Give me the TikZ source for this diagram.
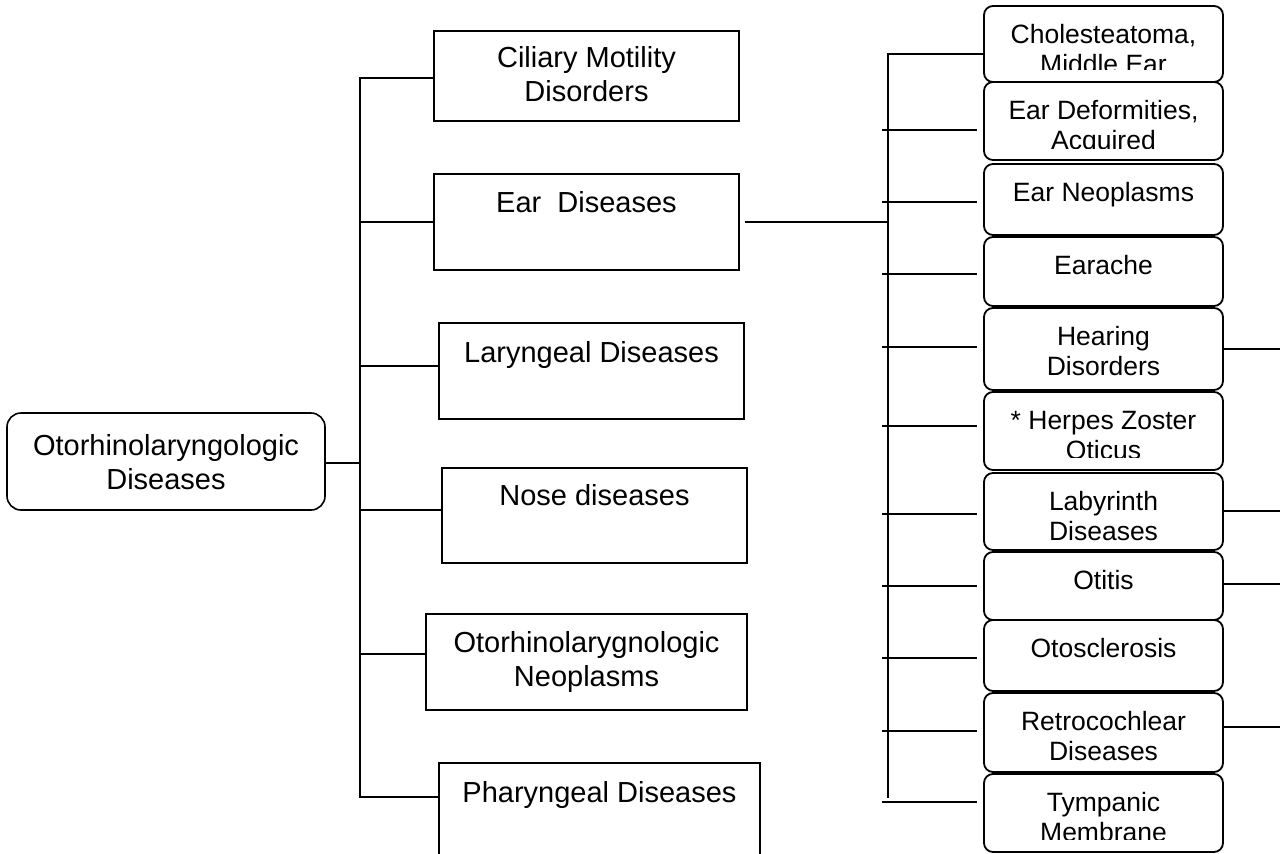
\documentclass[tikz,border=0pt]{standalone}
\usepackage{fontspec}
\setmainfont{Liberation Sans}
\newcommand\mkbox[6]{% style, name, x1, y1, x2, y2
  \node[#1, minimum width={#5-#3}, minimum height={#6-#4}] (#2) at ({(#3+#5)/2},{(#4+#6)/2}) {};}
\newcommand\rbxA[4]{% name, top, bottom, line
  \node[rbox, minimum width=239, minimum height={#3-#2}] (#1) at (1103.5,{(#2+#3)/2}) {};
  \begin{scope}
    \clip (986,#2) rectangle (1221,{#3-10});
    \node[rtxt] (#1a) at (1103.5,{#2+37}) {#4};
  \end{scope}}
\newcommand\rbxB[6]{% name, top, bottom, line1, line2, text clip inset
  \node[rbox, minimum width=239, minimum height={#3-#2}] (#1) at (1103.5,{(#2+#3)/2}) {};
  \begin{scope}
    \clip (986,#2) rectangle (1221,{#3-#6});
    \node[rtxt] (#1a) at (1103.5,{#2+37}) {#4};
    \node[rtxt] (#1b) at (1103.5,{#2+67.5}) {#5};
  \end{scope}}
\begin{document}
\begin{tikzpicture}[x=1pt,y=-1pt,
  lbox/.style={draw, line width=1.6pt, fill=white, inner sep=0pt},
  rootbox/.style={lbox, rounded corners=14pt},
  rbox/.style={draw, line width=1.8pt, fill=white, rounded corners=9pt, inner sep=0pt},
  ltxt/.style={anchor=base, inner sep=0pt, font=\fontsize{29}{34}\selectfont},
  rtxt/.style={anchor=base, inner sep=0pt, font=\fontsize{26.5}{30}\selectfont},
  conn/.style={line width=1.6pt}]
\clip (0,0) rectangle (1280,854);
\fill[white] (0,0) rectangle (1280,854);

% root
\mkbox{rootbox}{root}{7}{413}{325}{510}
\node[ltxt] (rootA) at (166,455) {Otorhinolaryngologic};
\node[ltxt] (rootB) at (166,489) {Diseases};

% left column
\mkbox{lbox}{cil}{434}{31}{739}{121}
\node[ltxt] (cilA) at (586.5,67) {Ciliary Motility};
\node[ltxt] (cilB) at (586.5,101) {Disorders};
\mkbox{lbox}{ear}{434}{174}{739}{270}
\node[ltxt] (earA) at (586.5,212) {Ear\ \ Diseases};
\mkbox{lbox}{lar}{439}{323}{744}{419}
\node[ltxt] (larA) at (591.5,362) {Laryngeal Diseases};
\mkbox{lbox}{nose}{442}{468}{747}{563}
\node[ltxt] (noseA) at (594.5,505) {Nose diseases};
\mkbox{lbox}{neo}{426}{614}{747}{710}
\node[ltxt] (neoA) at (586.5,652) {Otorhinolarygnologic};
\node[ltxt] (neoB) at (586.5,686) {Neoplasms};
\mkbox{lbox}{phar}{439}{763}{760}{900}
\node[ltxt] (pharA) at (599.5,802) {Pharyngeal Diseases};

% left connectors
\coordinate (lt) at (360,78);
\coordinate (lb) at (360,797);
\draw[conn] (lt -| cil.west) -- (lt) -- (lb) -- (lb -| phar.west);
\draw[conn] ([yshift=-1.5pt]root.east) -- ([yshift=-1.5pt]root.east -| lt);
\draw[conn] (ear.west) -- (ear.west -| lt);
\draw[conn] ([yshift=5pt]lar.west) -- ([yshift=5pt]lar.west -| lt);
\draw[conn] ([yshift=5.5pt]nose.west) -- ([yshift=5.5pt]nose.west -| lt);
\draw[conn] ([yshift=8pt]neo.west) -- ([yshift=8pt]neo.west -| lt);

% right column
\rbxB{chol}{6}{82}{Cholesteatoma,}{Middle Ear}{13}
\rbxB{def}{82}{160}{Ear Deformities,}{Acquired}{12}
\rbxA{eneo}{164}{235}{Ear Neoplasms}
\rbxA{ache}{237}{306}{Earache}
\rbxB{hear}{308}{390}{Hearing}{Disorders}{8}
\rbxB{herp}{392}{470}{* Herpes Zoster}{Oticus}{13}
\rbxB{lab}{473}{550}{Labyrinth}{Diseases}{7}
\rbxA{otit}{552}{620}{Otitis}
\rbxA{otos}{620}{691}{Otosclerosis}
\rbxB{retro}{693}{772}{Retrocochlear}{Diseases}{8}
\rbxB{tymp}{774}{852}{Tympanic}{Membrane}{13}

% right connectors
\coordinate (st) at (888,54);
\coordinate (sb) at (888,798);
\draw[conn] (st -| chol.west) -- (st) -- (sb);
\draw[conn] ([xshift=5pt]ear.east) -- (ear.east -| st);
\coordinate (bdef) at (882,130);
\coordinate (beneo) at (882,202);
\coordinate (bache) at (882,274);
\coordinate (bhear) at (882,347);
\coordinate (bherp) at (882,426);
\coordinate (blab) at (882,514);
\coordinate (botit) at (882,586);
\coordinate (botos) at (882,658);
\coordinate (bretro) at (882,731);
\coordinate (btymp) at (882,802);
\foreach \n in {def,eneo,ache,hear,herp,lab,otit,otos,retro,tymp}
  \draw[conn] (b\n) -- ([xshift=-6pt]b\n -| \n.west);

% outgoing stubs
\draw[conn] (hear.east) -- ++(70,0);
\draw[conn] ([yshift=0.5pt]lab.east) -- ++(70,0);
\draw[conn] ([yshift=2pt]otit.east) -- ++(70,0);
\draw[conn] ([yshift=5.5pt]retro.east) -- ++(70,0);
\end{tikzpicture}
\end{document}
